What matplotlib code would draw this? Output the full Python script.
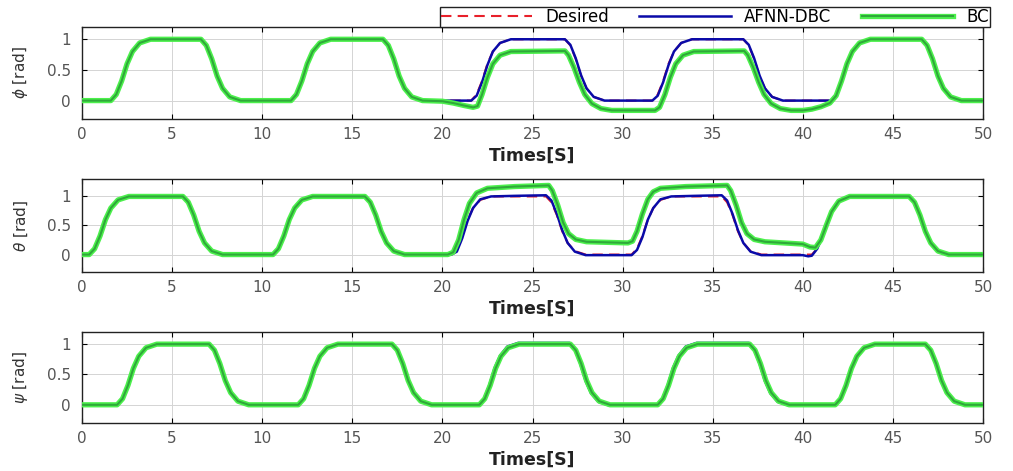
import matplotlib
matplotlib.use("Agg")
import matplotlib.pyplot as plt
import matplotlib.patheffects as pe

# ---------------- roll (phi) ----------------
phi_ref_t = [0,
             1.6, 1.9, 2.2, 2.5, 2.8, 3.2, 3.8,
             6.6, 6.9, 7.2, 7.5, 7.8, 8.2, 8.8,
             11.6, 11.9, 12.2, 12.5, 12.8, 13.2, 13.8,
             16.7, 17.0, 17.3, 17.6, 17.9, 18.3, 18.9,
             21.6, 21.9, 22.2, 22.5, 22.8, 23.2, 23.8,
             26.8, 27.1, 27.4, 27.7, 28.0, 28.4, 29.0,
             31.65, 31.95, 32.25, 32.55, 32.85, 33.25, 33.85,
             36.7, 37.0, 37.3, 37.6, 37.9, 38.3, 38.9,
             41.55, 41.85, 42.15, 42.45, 42.75, 43.15, 43.75,
             46.6, 46.9, 47.2, 47.5, 47.8, 48.2, 48.8,
             50]
phi_ref = [0,
           0, 0.1, 0.32, 0.6, 0.8, 0.94, 1.0,
           1.0, 0.9, 0.68, 0.4, 0.2, 0.06, 0,
           0, 0.1, 0.32, 0.6, 0.8, 0.94, 1.0,
           1.0, 0.9, 0.68, 0.4, 0.2, 0.06, 0,
           0, 0.1, 0.32, 0.6, 0.8, 0.94, 1.0,
           1.0, 0.9, 0.68, 0.4, 0.2, 0.06, 0,
           0, 0.1, 0.32, 0.6, 0.8, 0.94, 1.0,
           1.0, 0.9, 0.68, 0.4, 0.2, 0.06, 0,
           0, 0.1, 0.32, 0.6, 0.8, 0.94, 1.0,
           1.0, 0.9, 0.68, 0.4, 0.2, 0.06, 0,
           0]
phi_afnn_t = phi_ref_t
phi_afnn = [0,
            0, 0.1, 0.32, 0.6, 0.8, 0.94, 1.0,
            1.0, 0.9, 0.68, 0.4, 0.2, 0.06, 0,
            0, 0.1, 0.32, 0.6, 0.8, 0.94, 1.0,
            1.0, 0.9, 0.68, 0.4, 0.2, 0.06, 0,
            0, 0.08, 0.3, 0.58, 0.8, 0.94, 1.0,
            1.0, 0.91, 0.69, 0.41, 0.2, 0.06, 0,
            0, 0.08, 0.3, 0.58, 0.8, 0.94, 1.0,
            1.0, 0.91, 0.69, 0.41, 0.2, 0.06, 0,
            0, 0.1, 0.32, 0.6, 0.8, 0.94, 1.0,
            1.0, 0.9, 0.68, 0.4, 0.2, 0.06, 0,
            0]
phi_bc_t = [0,
            1.6, 1.9, 2.2, 2.5, 2.8, 3.2, 3.8,
            6.6, 6.9, 7.2, 7.5, 7.8, 8.2, 8.8,
            11.6, 11.9, 12.2, 12.5, 12.8, 13.2, 13.8,
            16.7, 17.0, 17.3, 17.6, 17.9, 18.3, 18.9,
            20.0, 20.6, 21.2, 21.7, 21.95, 22.2, 22.5, 22.8, 23.2, 23.8,
            26.8, 27.0, 27.3, 27.6, 27.9, 28.3, 28.8, 29.4,
            31.8, 32.05, 32.35, 32.65, 32.95, 33.35, 33.95,
            36.75, 36.95, 37.25, 37.55, 37.85, 38.25, 38.75, 39.35,
            40.0, 40.5, 41.0, 41.5,
            41.85, 42.15, 42.45, 42.75, 43.15, 43.75,
            46.6, 46.9, 47.2, 47.5, 47.8, 48.2, 48.8,
            50]
phi_bc = [0,
          0, 0.1, 0.32, 0.6, 0.8, 0.94, 1.0,
          1.0, 0.9, 0.68, 0.4, 0.2, 0.06, 0,
          0, 0.1, 0.32, 0.6, 0.8, 0.94, 1.0,
          1.0, 0.9, 0.68, 0.4, 0.2, 0.06, 0,
          -0.01, -0.04, -0.08, -0.11, -0.09, 0.1, 0.38, 0.6, 0.74, 0.8,
          0.81, 0.74, 0.54, 0.3, 0.1, -0.05, -0.13, -0.16,
          -0.16, -0.11, 0.1, 0.38, 0.6, 0.74, 0.8,
          0.81, 0.74, 0.54, 0.3, 0.1, -0.05, -0.13, -0.16,
          -0.16, -0.14, -0.1, -0.04,
          0.08, 0.32, 0.6, 0.8, 0.94, 1.0,
          1.0, 0.9, 0.68, 0.4, 0.2, 0.06, 0,
          0]

# ---------------- pitch (theta) ----------------
theta_ref_t = [0,
               0.4, 0.7, 1.0, 1.3, 1.6, 2.0, 2.6,
               5.6, 5.9, 6.2, 6.5, 6.8, 7.2, 7.8,
               10.6, 10.9, 11.2, 11.5, 11.8, 12.2, 12.8,
               15.7, 16.0, 16.3, 16.6, 16.9, 17.3, 17.9,
               20.5, 20.8, 21.1, 21.4, 21.7, 22.1, 22.7,
               25.75, 26.05, 26.35, 26.65, 26.95, 27.35, 27.95,
               30.5, 30.8, 31.1, 31.4, 31.7, 32.1, 32.7,
               35.5, 35.8, 36.1, 36.4, 36.7, 37.1, 37.7,
               40.5, 40.8, 41.1, 41.4, 41.7, 42.1, 42.7,
               45.9, 46.2, 46.5, 46.8, 47.1, 47.5, 48.1,
               50]
theta_ref = phi_ref
theta_afnn_t = [0,
                0.4, 0.7, 1.0, 1.3, 1.6, 2.0, 2.6,
                5.6, 5.9, 6.2, 6.5, 6.8, 7.2, 7.8,
                10.6, 10.9, 11.2, 11.5, 11.8, 12.2, 12.8,
                15.7, 16.0, 16.3, 16.6, 16.9, 17.3, 17.9,
                20.5, 20.8, 21.1, 21.4, 21.7, 22.1, 22.7, 24.0,
                25.75, 26.05, 26.35, 26.65, 26.95, 27.35, 27.95,
                30.5, 30.8, 31.1, 31.4, 31.7, 32.1, 32.7, 34.0,
                35.5, 35.8, 36.1, 36.4, 36.7, 37.1, 37.7,
                40.0, 40.3, 40.5, 40.8, 41.1, 41.4, 41.7, 42.1, 42.7,
                45.9, 46.2, 46.5, 46.8, 47.1, 47.5, 48.1,
                50]
theta_afnn = [0,
              0, 0.1, 0.32, 0.6, 0.8, 0.94, 1.0,
              1.0, 0.9, 0.68, 0.4, 0.2, 0.06, 0,
              0, 0.1, 0.32, 0.6, 0.8, 0.94, 1.0,
              1.0, 0.9, 0.68, 0.4, 0.2, 0.06, 0,
              0, 0.05, 0.28, 0.58, 0.8, 0.95, 1.0, 1.01,
              1.02, 0.93, 0.7, 0.42, 0.2, 0.05, -0.01,
              -0.01, 0.08, 0.3, 0.6, 0.8, 0.95, 1.0, 1.01,
              1.02, 0.93, 0.7, 0.42, 0.2, 0.05, -0.01,
              -0.01, -0.03, -0.02, 0.1, 0.32, 0.6, 0.8, 0.94, 1.0,
              1.0, 0.9, 0.68, 0.4, 0.2, 0.06, 0,
              0]
theta_bc_t = [0,
              0.4, 0.7, 1.0, 1.3, 1.6, 2.0, 2.6,
              5.6, 5.9, 6.2, 6.5, 6.8, 7.2, 7.8,
              10.6, 10.9, 11.2, 11.5, 11.8, 12.2, 12.8,
              15.7, 16.0, 16.3, 16.6, 16.9, 17.3, 17.9,
              20.3, 20.6, 20.9, 21.2, 21.5, 21.9, 22.5, 24.0,
              25.9, 26.1, 26.4, 26.7, 27.0, 27.4, 28.0,
              30.3, 30.55, 30.8, 31.1, 31.4, 31.7, 32.1, 33.5,
              35.8, 36.0, 36.3, 36.6, 36.9, 37.3, 37.9,
              40.0, 40.4, 40.7, 41.0, 41.3, 41.6, 42.0, 42.6,
              45.9, 46.2, 46.5, 46.8, 47.1, 47.5, 48.1,
              50]
theta_bc = [0,
            0, 0.1, 0.32, 0.6, 0.8, 0.94, 1.0,
            1.0, 0.9, 0.68, 0.4, 0.2, 0.06, 0,
            0, 0.1, 0.32, 0.6, 0.8, 0.94, 1.0,
            1.0, 0.9, 0.68, 0.4, 0.2, 0.06, 0,
            0.0, 0.04, 0.25, 0.6, 0.88, 1.06, 1.14, 1.17,
            1.19, 1.1, 0.85, 0.55, 0.36, 0.26, 0.22,
            0.2, 0.23, 0.4, 0.7, 0.95, 1.08, 1.14, 1.17,
            1.19, 1.1, 0.85, 0.55, 0.36, 0.26, 0.22,
            0.18, 0.13, 0.12, 0.25, 0.5, 0.74, 0.92, 1.0,
            1.0, 0.9, 0.68, 0.4, 0.2, 0.06, 0,
            0]

# ---------------- yaw (psi) ----------------
psi_ref_t = [0,
             1.95, 2.25, 2.55, 2.85, 3.15, 3.55, 4.15,
             7.05, 7.35, 7.65, 7.95, 8.25, 8.65, 9.25,
             12.0, 12.3, 12.6, 12.9, 13.2, 13.6, 14.2,
             17.2, 17.5, 17.8, 18.1, 18.4, 18.8, 19.4,
             22.0, 22.3, 22.6, 22.9, 23.2, 23.6, 24.2,
             27.05, 27.35, 27.65, 27.95, 28.25, 28.65, 29.25,
             31.9, 32.2, 32.5, 32.8, 33.1, 33.5, 34.1,
             37.0, 37.3, 37.6, 37.9, 38.2, 38.6, 39.2,
             41.8, 42.1, 42.4, 42.7, 43.0, 43.4, 44.0,
             46.8, 47.1, 47.4, 47.7, 48.0, 48.4, 49.0,
             50]
psi_ref = phi_ref
psi_afnn_t = psi_ref_t
psi_afnn = [0,
            0, 0.1, 0.32, 0.6, 0.8, 0.94, 1.0,
            1.0, 0.9, 0.68, 0.4, 0.2, 0.06, 0,
            0, 0.1, 0.32, 0.6, 0.8, 0.94, 1.0,
            1.0, 0.9, 0.68, 0.4, 0.2, 0.06, 0,
            -0.01, 0.09, 0.32, 0.61, 0.81, 0.96, 1.02,
            1.02, 0.91, 0.68, 0.39, 0.19, 0.05, -0.01,
            -0.01, 0.09, 0.32, 0.61, 0.81, 0.96, 1.02,
            1.02, 0.91, 0.68, 0.39, 0.19, 0.05, -0.01,
            0, 0.1, 0.32, 0.6, 0.8, 0.94, 1.0,
            1.0, 0.9, 0.68, 0.4, 0.2, 0.06, 0,
            0]
psi_bc_t = [0,
            1.95, 2.25, 2.55, 2.85, 3.15, 3.55, 4.15,
            7.05, 7.35, 7.65, 7.95, 8.25, 8.65, 9.25,
            12.0, 12.3, 12.6, 12.9, 13.2, 13.6, 14.2,
            17.2, 17.5, 17.8, 18.1, 18.4, 18.8, 19.4,
            22.05, 22.35, 22.65, 22.95, 23.25, 23.65, 24.25,
            27.1, 27.4, 27.7, 28.0, 28.3, 28.7, 29.3,
            31.95, 32.25, 32.55, 32.85, 33.15, 33.55, 34.15,
            37.05, 37.35, 37.65, 37.95, 38.25, 38.65, 39.25,
            41.8, 42.1, 42.4, 42.7, 43.0, 43.4, 44.0,
            46.8, 47.1, 47.4, 47.7, 48.0, 48.4, 49.0,
            50]
psi_bc = psi_ref

panels = [
    (r"$\phi$ [rad]", (-0.3, 1.2), phi_ref_t, phi_ref, phi_afnn_t, phi_afnn, phi_bc_t, phi_bc),
    (r"$\theta$ [rad]", (-0.3, 1.3), theta_ref_t, theta_ref, theta_afnn_t, theta_afnn, theta_bc_t, theta_bc),
    (r"$\psi$ [rad]", (-0.3, 1.2), psi_ref_t, psi_ref, psi_afnn_t, psi_afnn, psi_bc_t, psi_bc),
]

x_ticks = [0, 5, 10, 15, 20, 25, 30, 35, 40, 45, 50]
y_ticks = [0, 0.5, 1]
y_tick_labels = ["0", "0.5", "1"]

plt.rcParams["font.family"] = ["DejaVu Sans"]
plt.rcParams["mathtext.fontset"] = "dejavusans"

fig = plt.figure(figsize=(10.13, 4.71), dpi=100)
W, H = 1013.0, 471.0
boxes = [(27, 119), (179, 272), (332, 423)]
left, right = 82, 983

green_fx = [pe.Stroke(linewidth=3.8, foreground="#4cf04c"), pe.Normal()]

handles = None
for (ylab, ylim, tr, yr, ta, ya, tb, yb), (top, bot) in zip(panels, boxes):
    ax = fig.add_axes([left / W, 1 - bot / H, (right - left) / W, (bot - top) / H])
    h1, = ax.plot(tr, yr, color="#e8202a", lw=1.5, ls=(0, (5, 3)), zorder=3, label="Desired")
    h2, = ax.plot(ta, ya, color="#0a0aa8", lw=1.8, zorder=4, label="AFNN-DBC")
    h3, = ax.plot(tb, yb, color="#2fa83a", lw=1.5, zorder=5, label="BC",
                  path_effects=green_fx)
    handles = [h1, h2, h3]
    ax.set_xlim(0, 50)
    ax.set_ylim(*ylim)
    ax.set_xticks(x_ticks)
    ax.set_yticks(y_ticks)
    ax.set_yticklabels(y_tick_labels)
    ax.grid(True, color="#d4d4d4", lw=0.7)
    ax.set_axisbelow(True)
    ax.tick_params(direction="in", top=True, right=True, length=3.5, width=0.8,
                   labelsize=11, labelcolor="#555555")
    ax.tick_params(axis="x", pad=6)
    ax.tick_params(axis="y", pad=8)
    for s in ax.spines.values():
        s.set_linewidth(1.0)
        s.set_color("#222222")
    ax.set_ylabel(ylab, fontsize=11, color="#333333")
    ax.yaxis.set_label_coords(-0.058, 0.5)
    ax.set_xlabel("Times[S]", fontsize=12.5, fontweight="bold", color="#222222", labelpad=3)

leg = fig.legend(handles, ["Desired", "AFNN-DBC", "BC"], ncol=3,
                 loc="lower right", bbox_to_anchor=(990 / W, 1 - 27 / H),
                 fontsize=12, frameon=True, fancybox=False, framealpha=1,
                 edgecolor="#222222", handlelength=5.5, columnspacing=1.8,
                 handletextpad=0.8, borderpad=0.05, borderaxespad=0)
leg.get_frame().set_linewidth(1.0)

fig.savefig("out.png", dpi=100)
